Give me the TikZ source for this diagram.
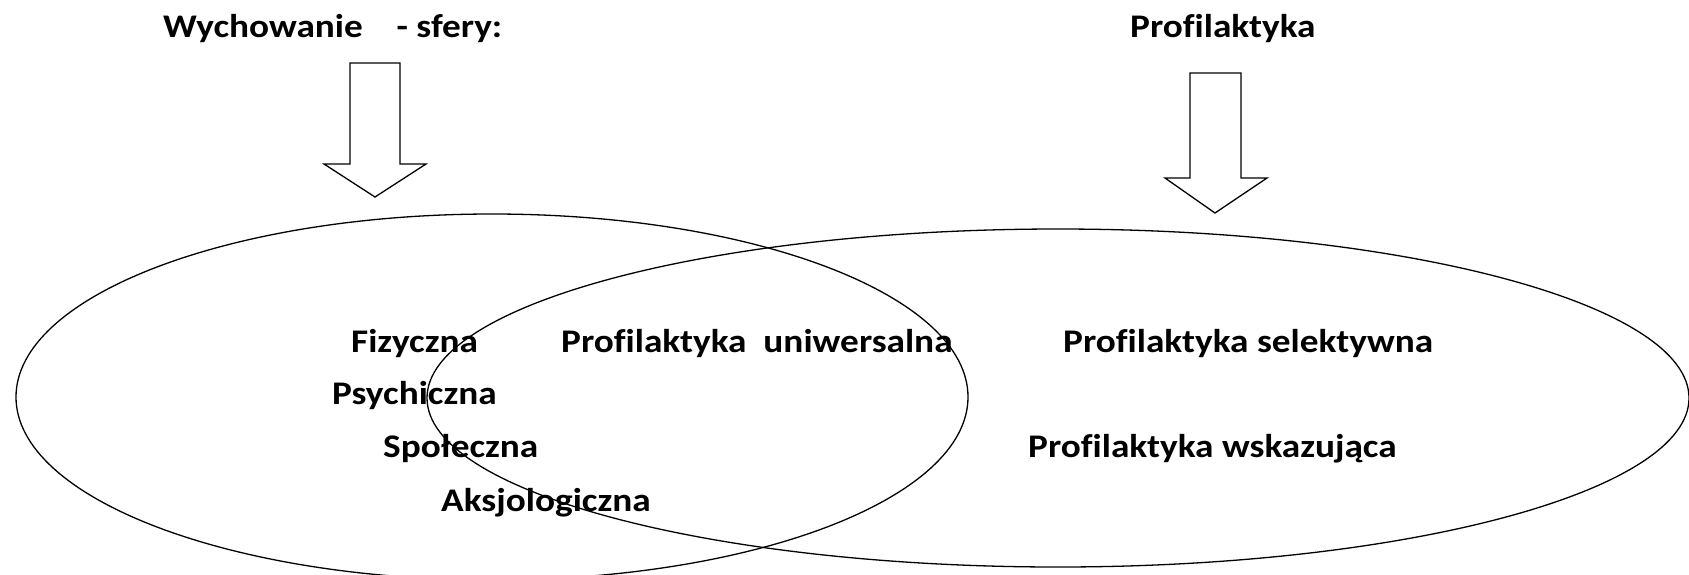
\documentclass[tikz,border=0pt]{standalone}
\usepackage{fontspec}
\setmainfont{Carlito}[FakeStretch=1.13, Ligatures=NoCommon]
\tikzset{
	napis/.style={anchor=base west, inner sep=0pt, font=\fontsize{33}{36}\selectfont\bfseries},
	linia/.style={line width=1.3pt, line join=miter}
}

\begin{document}
\begin{tikzpicture}[x=1pt,y=-1pt]
	\useasboundingbox (0,0) rectangle (1689,574);
	\node[napis] (wych) at (163,37) {Wychowanie\ \ \ \ - sfery:};
	\node[napis] (prof) at (1130,37) {Profilaktyka};
	\draw[linia] (350,63) -- (400,63) -- (400,164) -- (426,164) -- (375,197) -- (324,164) -- (350,164) -- cycle;
	\draw[linia] (1190,73) -- (1241,73) -- (1241,178) -- (1267,178) -- (1215,213) -- (1165,178) -- (1190,178) -- cycle;
	\draw[linia] (492,397) ellipse [x radius=476pt, y radius=183pt];
	\draw[linia] (1058,398) ellipse [x radius=631pt, y radius=169pt];
	\node[napis] (fiz) at (351,352) {Fizyczna};
	\node[napis] (psych) at (332,404) {Psychiczna};
	\node[napis] (spol) at (383,457) {Społeczna};
	\node[napis] (aksj) at (441,511) {Aksjologiczna};
	\node[napis] (puniw) at (561,352) {Profilaktyka\ \ uniwersalna};
	\node[napis] (psel) at (1063,352) {Profilaktyka selektywna};
	\node[napis] (pwsk) at (1028,457) {Profilaktyka wskazująca};
\end{tikzpicture}
\end{document}
